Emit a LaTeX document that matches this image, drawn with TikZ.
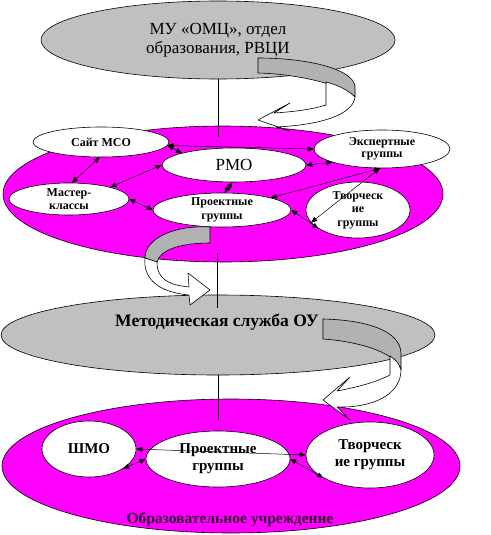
\documentclass[tikz,border=0pt]{standalone}
\usepackage{fontspec}
\setmainfont{Liberation Serif}
\usetikzlibrary{arrows.meta,shapes.geometric}

\definecolor{pinkfield}{HTML}{FF00FF}
\definecolor{ovalgray}{HTML}{C0C0C0}
\definecolor{ribbongray}{HTML}{B2B2B2}
\definecolor{labelpurple}{HTML}{330033}

\tikzset{
  oval/.style={draw, ellipse, inner sep=-6pt, align=center, line width=0.6pt},
  grayoval/.style={oval, fill=ovalgray},
  pinkoval/.style={oval, fill=pinkfield},
  bubble/.style={oval, fill=white, font=\bfseries\fontsize{12}{13.5}\selectfont},
  bigbubble/.style={oval, fill=white, font=\bfseries\fontsize{15}{17}\selectfont},
  link/.style={<->, line width=0.5pt},
  ribbon/.style={draw, line width=0.6pt, line join=round},
}

\begin{document}
\begin{tikzpicture}[x=1pt,y=-1pt,>={Triangle[length=6pt,width=5pt]}]
  \useasboundingbox (0,0) rectangle (490,535);

  % upper level
  \node[grayoval, minimum width=354pt, minimum height=78pt,
        font=\fontsize{17}{19}\selectfont] (omc) at (218,40)
        {МУ «ОМЦ», отдел\\образования, РВЦИ};
  \node[pinkoval, minimum width=440pt, minimum height=136pt] (rayon) at (223,194) {};
  \coordinate (omcfoot) at (218,137);
  \draw[line width=0.6pt] (omc.south) -- (omcfoot);

  \node[bubble, minimum width=136pt, minimum height=30pt] (sayt) at (101,142) {Сайт МСО};
  \node[bubble, minimum width=144pt, minimum height=34pt,
        font=\fontsize{17}{19}\selectfont] (rmo) at (234,165) {РМО};
  \node[bubble, minimum width=136pt, minimum height=38pt,
        font=\bfseries\fontsize{12}{12.5}\selectfont] (expert) at (382,149) {Экспертные\\группы};
  \node[bubble, minimum width=120pt, minimum height=32pt] (master) at (69,199) {Мастер-\\классы};
  \node[bubble, minimum width=138pt, minimum height=34pt] (proj) at (222,210) {Проектные\\группы};
  \node[bubble, minimum width=104pt, minimum height=56pt] (tvor) at (358,210) {Творческ\\ие\\группы};

  \draw[link] (sayt.-3) -- (expert.west);
  \draw[link] (sayt.-3) -- (rmo.167);
  \draw[link] (sayt.-95) -- (master.80);
  \draw[link] (rmo.west) -- (master.16);
  \draw[link] (rmo.-95) -- (proj.82);
  \draw[link] (rmo.east) -- (expert.195);
  \draw[link] (expert.-95) -- (proj.14);
  \draw[link] (expert.-97) -- (tvor.195);
  \draw[link] (master.east) -- (proj.west);
  \draw[link] (proj.east) -- (tvor.205);

  % school level
  \node[grayoval, minimum width=434pt, minimum height=80pt] (metod) at (218,335) {};
  \node[pinkoval, minimum width=458pt, minimum height=134pt] (school) at (231,466) {};

  \node[bigbubble, minimum width=94pt, minimum height=56pt] (shmo) at (89,449) {ШМО};
  \node[bigbubble, minimum width=144pt, minimum height=56pt] (proj2) at (218,459) {Проектные\\группы};
  \node[bigbubble, minimum width=128pt, minimum height=66pt] (tvor2) at (370,455) {Творческ\\ие группы};

  \draw[link] (shmo.east) -- (tvor2.west);
  \draw[link] (shmo.-30) -- (proj2.west);
  \draw[link] (proj2.east) -- (tvor2.206);

  % curled arrows
  \filldraw[ribbon, fill=ribbongray] (258,58) .. controls (305,58) and (352,68) .. (355,86)
    -- (355,97) .. controls (345,86) and (300,74) .. (258,73) -- cycle;
  \filldraw[ribbon, fill=white] (326,82) -- (326,105) .. controls (310,110) and (290,112) .. (274,113)
    -- (290,103) -- (258,120) -- (290,131) -- (276,127)
    .. controls (320,125) and (353,115) .. (355,97)
    .. controls (348,90) and (338,85) .. (326,82) -- cycle;

  \filldraw[ribbon, fill=ribbongray] (210,227) .. controls (175,225) and (145,238) .. (145,258)
    -- (157,262) .. controls (160,250) and (180,243) .. (210,243) -- cycle;
  \filldraw[ribbon, fill=white] (145,258) .. controls (143,276) and (155,292) .. (189,295)
    -- (190,305) -- (210,290) -- (188,273) -- (189,287)
    .. controls (170,285) and (157,280) .. (157,262) -- cycle;

  \filldraw[ribbon, fill=ribbongray] (323,319) .. controls (365,320) and (400,330) .. (401,353)
    -- (401,370) .. controls (398,355) and (365,342) .. (323,339) -- cycle;
  \filldraw[ribbon, fill=white] (390,356) -- (390,375) .. controls (372,384) and (352,388) .. (337,391)
    -- (350,377) -- (323,400) -- (350,420) -- (337,407)
    .. controls (372,408) and (401,395) .. (401,370)
    .. controls (399,363) and (395,359) .. (390,356) -- cycle;

  \coordinate (rayonfoot) at (217,253);
  \coordinate (metodhead) at (217,308);
  \coordinate (schoolhead) at (218,420);
  \draw[line width=0.6pt] (rayonfoot) -- (metodhead);
  \draw[line width=0.6pt] (metod.south) -- (schoolhead);

  \node[font=\bfseries\fontsize{17.5}{19}\selectfont] (metodtxt) at (217,322) {Методическая служба ОУ};
  \node[font=\bfseries\fontsize{15.5}{17}\selectfont, text=labelpurple] (schooltxt) at (230,520)
    {Образовательное учреждение};
\end{tikzpicture}
\end{document}
